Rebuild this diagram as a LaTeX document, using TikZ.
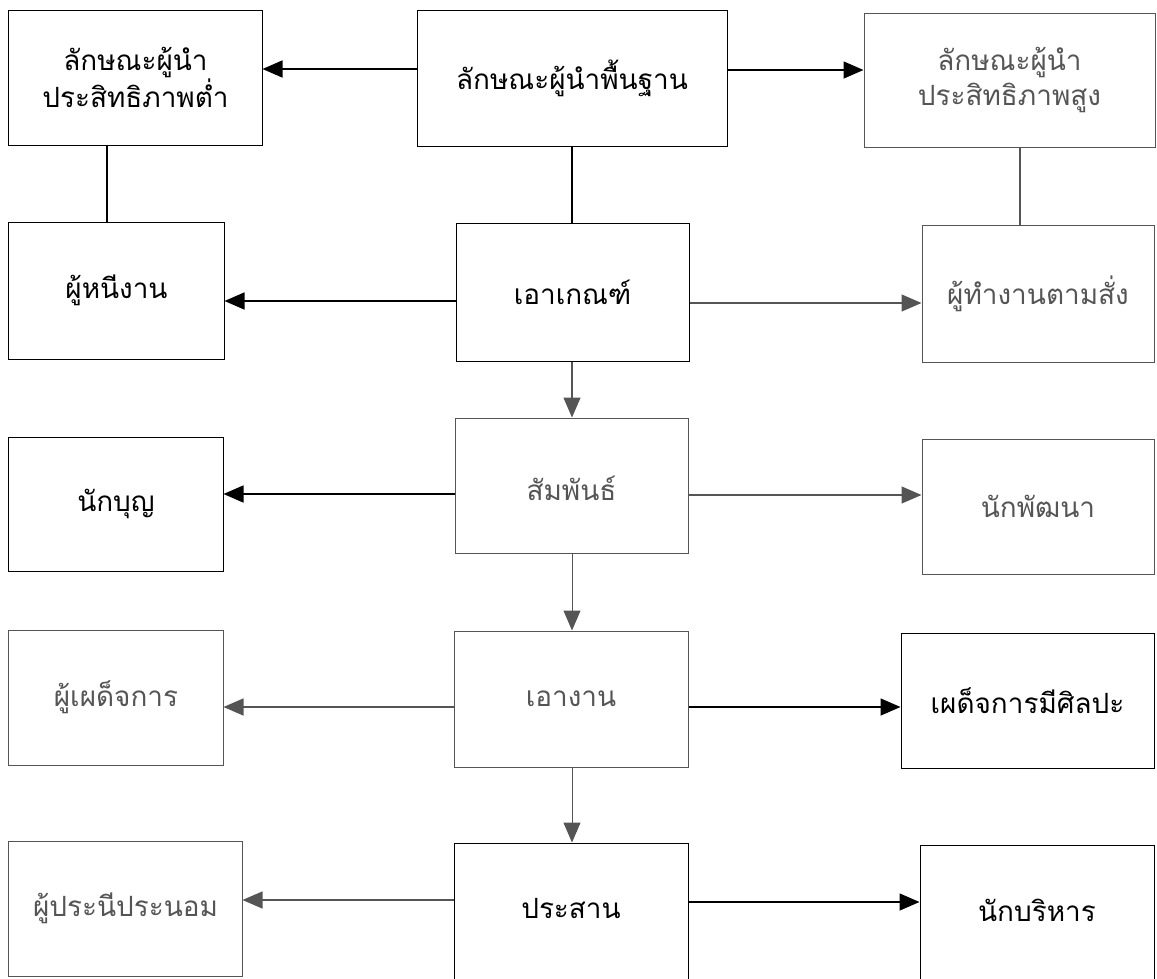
\documentclass[tikz,border=0pt]{standalone}
\usepackage{fontspec}
\newfontfamily\thaifont[Script=Thai]{Loma}
\usetikzlibrary{arrows.meta}
\definecolor{gr}{HTML}{555555}
\tikzset{
  box/.style={draw, line width=1bp, fill=none, inner sep=0pt, font=\thaifont\fontsize{28}{35}\selectfont, align=center},
  gbox/.style={box, draw=gr, text=gr},
  link/.style={line width=1.1bp},
  arr/.style={line width=1.6bp, -{Triangle[length=20bp,width=17bp]}},
  garr/.style={arr, draw=gr, line width=1.4bp}
}
\begin{document}
\begin{tikzpicture}[x=1bp,y=-1bp]
\useasboundingbox (0,0) rectangle (1157,979);
\clip (0,0) rectangle (1157,979);
\fill[white] (0,0) rectangle (1157,979);
% row 1
\node[box, minimum width=253bp, minimum height=135bp] (tl) at (135.5,77.5) {ลักษณะผู้นำ\\ประสิทธิภาพต่ำ};
\node[box, minimum width=310bp, minimum height=136bp] (tc) at (572,78) {ลักษณะผู้นำพื้นฐาน};
\node[gbox, minimum width=291bp, minimum height=134bp] (tr) at (1009.5,80) {ลักษณะผู้นำ\\ประสิทธิภาพสูง};
% row 2
\node[box, minimum width=215bp, minimum height=137bp] (a1) at (116.5,290.5) {ผู้หนีงาน};
\node[box, minimum width=233bp, minimum height=138bp] (a2) at (572.5,292) {เอาเกณฑ์};
\node[gbox, minimum width=232bp, minimum height=137bp] (a3) at (1038,293.5) {ผู้ทำงานตามสั่ง};
% row 3
\node[box, minimum width=214bp, minimum height=134bp] (b1) at (116,504) {นักบุญ};
\node[gbox, minimum width=233bp, minimum height=135bp] (b2) at (571.5,485.5) {};
\node[gr, font=\thaifont\fontsize{28}{35}\selectfont] (b2t) at (571.5,488) {สัมพันธ์};
\node[gbox, minimum width=232bp, minimum height=135bp] (b3) at (1038,506.5) {นักพัฒนา};
% row 4
\node[gbox, minimum width=214bp, minimum height=135bp] (c1) at (116,697.5) {ผู้เผด็จการ};
\node[gbox, minimum width=234bp, minimum height=136bp] (c2) at (571,699) {เอางาน};
\node[box, minimum width=253bp, minimum height=135bp] (c3) at (1027.5,700.5) {เผด็จการมีศิลปะ};
% row 5
\node[gbox, minimum width=233bp, minimum height=135bp] (d1) at (125.5,908.5) {ผู้ประนีประนอม};
\node[box, minimum width=234bp, minimum height=160bp] (d2) at (571,923) {};
\node[font=\thaifont\fontsize{28}{35}\selectfont] (d2t) at (571,908) {ประสาน};
\node[box, minimum width=234bp, minimum height=160bp] (d3) at (1037,925) {};
\node[font=\thaifont\fontsize{28}{35}\selectfont] (d3t) at (1037,910) {นักบริหาร};
% connectors
\coordinate (xl) at (107,0);
\coordinate (xm) at (572,0);
\coordinate (xr) at (1020,0);
\draw[arr] (tc.west |- 0,69) -- (tl.east |- 0,69);
\draw[arr] (tc.east |- 0,70) -- (tr.west |- 0,70);
\draw[link] (tl.south -| xl) -- (a1.north -| xl);
\draw[link] (tc.south -| xm) -- (a2.north -| xm);
\draw[link, draw=gr] (tr.south -| xr) -- (a3.north -| xr);
\draw[arr] (a2.west |- 0,301) -- (a1.east |- 0,301);
\draw[garr] (a2.east |- 0,303) -- (a3.west |- 0,303);
\draw[garr] (a2.south -| xm) -- (b2.north -| xm);
\draw[arr] (b2.west |- 0,494) -- (b1.east |- 0,494);
\draw[garr] (b2.east |- 0,495) -- (b3.west |- 0,495);
\draw[garr, line width=1bp] (b2.south -| xm) -- (c2.north -| xm);
\draw[garr] (c2.west |- 0,707) -- (c1.east |- 0,707);
\draw[arr] (c2.east |- 0,707) -- (c3.west |- 0,707);
\draw[garr, line width=1bp] (c2.south -| xm) -- (d2.north -| xm);
\draw[garr] (d2.west |- 0,900) -- (d1.east |- 0,900);
\draw[arr] (d2.east |- 0,902) -- (d3.west |- 0,902);
\end{tikzpicture}
\end{document}
